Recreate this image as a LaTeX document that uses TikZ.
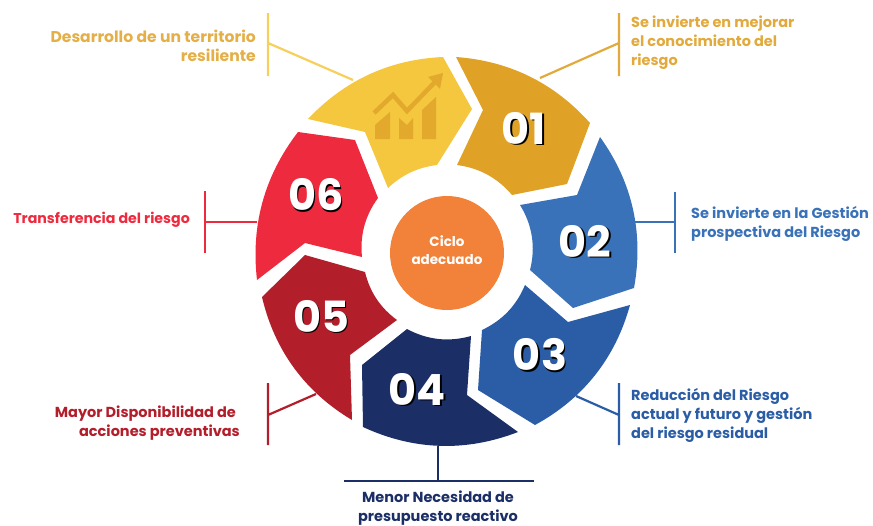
\documentclass[tikz,border=0pt]{standalone}
\usepackage{fontspec}
\setmainfont{Poppins}
\definecolor{cYel}{HTML}{F4C73F}
\definecolor{cYelD}{HTML}{E2A92C}
\definecolor{cOra}{HTML}{DFA126}
\definecolor{cBlu}{HTML}{3A72B9}
\definecolor{cBlu2}{HTML}{2A5DA6}
\definecolor{cNav}{HTML}{1B2F66}
\definecolor{cDRed}{HTML}{B31E2B}
\definecolor{cRed}{HTML}{EE2A3E}
\definecolor{cCir}{HTML}{F2813A}
\tikzset{
  lab/.style={font=\fontsize{14.5}{19}\selectfont\bfseries, inner sep=0pt},
  leader/.style={line width=2.2pt},
  num/.style={font=\fontsize{43}{43}\selectfont\bfseries, inner sep=0pt},
  every to/.style={looseness=0.92}
}
\newcommand{\numlabel}[3]{%
  \node[num,text=black] at ([shift={(1.6,1.6)}]#1) {#3};
  \node[num,text=white] (#2) at (#1) {#3};}
\begin{document}
\begin{tikzpicture}[x=1pt,y=-1pt]
\useasboundingbox (0,0) rectangle (873,525);
% segments
\fill[cYel] (308,119) to[bend left=22] (443,57) -- (472,109) -- (437,165) to[bend right=18] (388,188) -- (365,132) -- cycle;
\fill[cOra] (456,57) to[bend left=22] (590,123) -- (567,184) -- (512,195) to[bend right=21] (457,165) -- (483,110) -- cycle;
\fill[cBlu] (600,137) to[bend left=23] (634,288) -- (573,308) -- (530,270) to[bend right=23] (520,205) -- (577,195) -- cycle;
\fill[cBlu2] (630,305) to[bend left=23] (535,425) -- (478,390) -- (482,330) to[bend right=21] (525,285) -- (568,322) -- cycle;
\fill[cNav] (518,432) to[bend left=23] (363,427) -- (362,365) -- (407,329) to[bend right=22] (471,336) -- (467,395) -- cycle;
\fill[cDRed] (352,420) to[bend left=23] (262,297) -- (305,255) -- (365,272) to[bend right=20] (397,320) -- (350,355) -- cycle;
\fill[cRed] (257,280) to[bend left=22] (298,132) -- (355,140) -- (378,198) to[bend right=21] (362,257) -- (305,243) -- cycle;
% icon
\fill[cYelD] (375,139) -- (375,125) -- (390,112) -- (390,139) -- cycle;
\fill[cYelD] (399,139) -- (399,118) -- (407,125) -- (413,118) -- (413,139) -- cycle;
\fill[cYelD] (422,139) -- (422,110) -- (436,97) -- (436,139) -- cycle;
\draw[cYelD,line width=4.5pt] (374,113) -- (393,95) -- (407,111) -- (435,82);
\fill[cYelD] (443,73) -- (428,77) -- (440,89) -- cycle;
% centre
\node[circle,fill=cCir,minimum size=114pt,inner sep=0pt] (centre) at (447,253) {};
\node[align=center,text=white,inner sep=0pt,font=\fontsize{13.5}{18}\selectfont\bfseries] (centretext) at (447,250) {Ciclo\\adecuado};
% numbers
\numlabel{524,128}{n1}{01}
\numlabel{585,241}{n2}{02}
\numlabel{540,355}{n3}{03}
\numlabel{417,389}{n4}{04}
\numlabel{321,316}{n5}{05}
\numlabel{316,195}{n6}{06}
% leaders
\coordinate (a1) at (268,13); \coordinate (a2) at (268,76); \coordinate (a3) at (268,43); \coordinate (a4) at (353,80);
\draw[leader,color=cYel!85!white] (a1) -- (a2) (a3) -- (a4);
\coordinate (b1) at (619,13); \coordinate (b2) at (619,76); \coordinate (b3) at (619,43); \coordinate (b4) at (540,78);
\draw[leader,color=cOra!90!white] (b1) -- (b2) (b3) -- (b4);
\coordinate (c1) at (675,192); \coordinate (c2) at (675,253); \coordinate (c3) at (675,222); \coordinate (c4) at (635,222);
\draw[leader,color=cBlu] (c1) -- (c2) (c3) -- (c4);
\coordinate (d1) at (619,383); \coordinate (d2) at (619,445); \coordinate (d3) at (619,415); \coordinate (d4) at (576,396);
\draw[leader,color=cBlu2] (d1) -- (d2) (d3) -- (d4);
\coordinate (e1) at (344,481); \coordinate (e2) at (534,481); \coordinate (e3) at (438,481); \coordinate (e4) at (438,446);
\draw[leader,color=cNav] (e1) -- (e2) (e3) -- (e4);
\coordinate (f1) at (268,383); \coordinate (f2) at (268,445); \coordinate (f3) at (268,415); \coordinate (f4) at (316,394);
\draw[leader,color=cDRed] (f1) -- (f2) (f3) -- (f4);
\coordinate (g1) at (205,191); \coordinate (g2) at (205,253); \coordinate (g3) at (205,222); \coordinate (g4) at (257,222);
\draw[leader,color=cRed] (g1) -- (g2) (g3) -- (g4);
% labels
\node[lab,font=\fontsize{15.6}{19}\selectfont\bfseries,text=cOra!85!white,align=right,anchor=east] (la) at (256,45.5) {Desarrollo de un territorio\\resiliente};
\node[lab,text=cOra!90!white,align=left,anchor=west] (lb) at (631,43) {Se invierte en mejorar\\el conocimiento del\\riesgo};
\node[lab,text=cBlu,align=left,anchor=west] (lc) at (691,224) {Se invierte en la Gestión\\prospectiva del Riesgo};
\node[lab,text=cBlu2,align=left,anchor=west] (ld) at (631,415) {Reducción del Riesgo\\actual y futuro y gestión\\del riesgo residual};
\node[lab,text=cNav,align=center,anchor=center] (le) at (438,508) {Menor Necesidad de\\presupuesto reactivo};
\node[lab,text=cDRed,align=right,anchor=east] (lf) at (240,423.5) {Mayor Disponibilidad de\hspace*{4pt}\\acciones preventivas};
\node[lab,font=\fontsize{14.2}{19}\selectfont\bfseries,text=cRed,anchor=east] (lg) at (190,220) {Transferencia del riesgo};
\end{tikzpicture}
\end{document}
